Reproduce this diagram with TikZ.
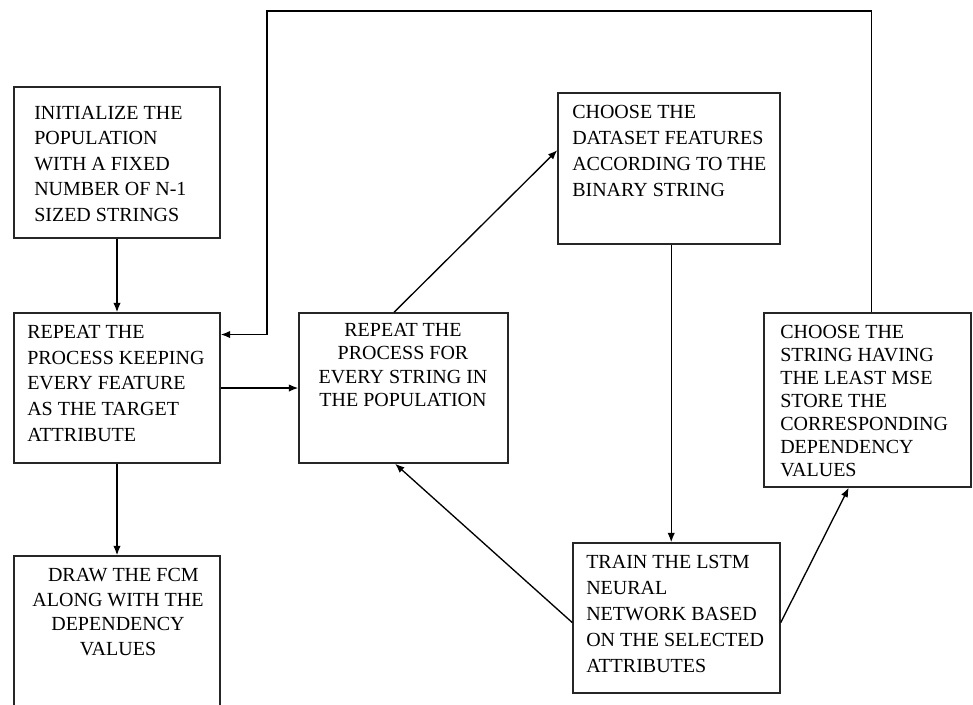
\documentclass[tikz,border=0pt]{standalone}
\usepackage{fontspec}
\setmainfont{Liberation Serif}
\usetikzlibrary{arrows.meta,fit,calc}

\begin{document}
\begin{tikzpicture}[x=0.75pt,y=-0.75pt,
  box/.style={draw=black!85,line width=1.1pt,inner sep=0pt},
  txt/.style={inner sep=0pt,font=\fontsize{15pt}{#1}\selectfont},
  flow/.style={draw=black,line width=1pt,-{Latex[length=7pt,width=5.5pt]}}]
\useasboundingbox (0,0) rectangle (973,704);

% process boxes
\node[box,fit={(14,87) (220,238)}]   (init)    {};
\node[box,fit={(14,313) (220,463)}]  (keep)    {};
\node[box,fit={(14,556) (220,716)}]  (fcm)     {};
\node[box,fit={(299,313) (508,463)}] (string)  {};
\node[box,fit={(558,93) (780,244)}]  (dataset) {};
\node[box,fit={(573,543) (780,693)}] (train)   {};
\node[box,fit={(764,313) (971,487)}] (mse)     {};

% box texts
\node[txt=19.1pt,anchor=north west,align=left] (initT) at (34,106)
  {INITIALIZE THE\\POPULATION\\WITH A FIXED\\NUMBER OF N-1\\SIZED STRINGS};
\node[txt=19.3pt,anchor=north west,align=left] (keepT) at (27,325)
  {REPEAT THE\\PROCESS KEEPING\\EVERY FEATURE\\AS THE TARGET\\ATTRIBUTE};
\node[txt=18.4pt,anchor=north,align=center] (fcmT) at (118,568)
  {\hspace*{8pt}DRAW THE FCM\\ALONG WITH THE\\DEPENDENCY\\VALUES};
\node[txt=17.5pt,anchor=north,align=center] (stringT) at (403,323)
  {REPEAT THE\\PROCESS FOR\\EVERY STRING IN\\THE POPULATION};
\node[txt=19.5pt,anchor=north west,align=left] (datasetT) at (572,105)
  {CHOOSE THE\\DATASET FEATURES\\ACCORDING TO THE\\BINARY STRING};
\node[txt=19.5pt,anchor=north west,align=left] (trainT) at (586,555)
  {TRAIN THE LSTM\\NEURAL\\NETWORK BASED\\ON THE SELECTED\\ATTRIBUTES};
\node[txt=17.25pt,anchor=north west,align=left] (mseT) at (780,325)
  {CHOOSE THE\\STRING HAVING\\THE LEAST MSE\\STORE THE\\CORRESPONDING\\DEPENDENCY\\VALUES};

% anchor points on the box edges
\coordinate (stringTop) at ($(string.north west)!0.455!(string.north east)$);
\coordinate (stringBot) at ($(string.south west)!0.46!(string.south east)$);
\coordinate (dataIn)    at ($(dataset.north west)!0.38!(dataset.south west)$);
\coordinate (dataOut)   at ($(dataset.south west)!0.51!(dataset.south east)$);
\coordinate (trainL)    at ($(train.north west)!0.53!(train.south west)$);
\coordinate (trainR)    at ($(train.north east)!0.53!(train.south east)$);
\coordinate (mseIn)     at ($(mse.south west)!0.41!(mse.south east)$);
\coordinate (mseOut)    at ($(mse.north west)!0.518!(mse.north east)$);
\coordinate (keepIn)    at ($(keep.north east)!0.147!(keep.south east)$);

% connectors
\draw[flow] (init.south) -- (keep.north);
\draw[flow] (keep.south) -- (fcm.north);
\draw[flow] (keep.east) -- (string.west);
\draw[flow] (stringTop) -- (dataIn);
\draw[flow] (dataOut) -- (dataOut |- train.north);
\draw[flow] (trainL) -- (stringBot);
\draw[flow] (trainR) -- (mseIn);

% feedback loop from the best string back to the outer repetition
\coordinate (loopR) at (mseOut |- 0,11);
\coordinate (loopL) at (267,11);
\draw[flow] (mseOut) -- (loopR) -- (loopL) -- (loopL |- keepIn) -- (keepIn);
\end{tikzpicture}
\end{document}
